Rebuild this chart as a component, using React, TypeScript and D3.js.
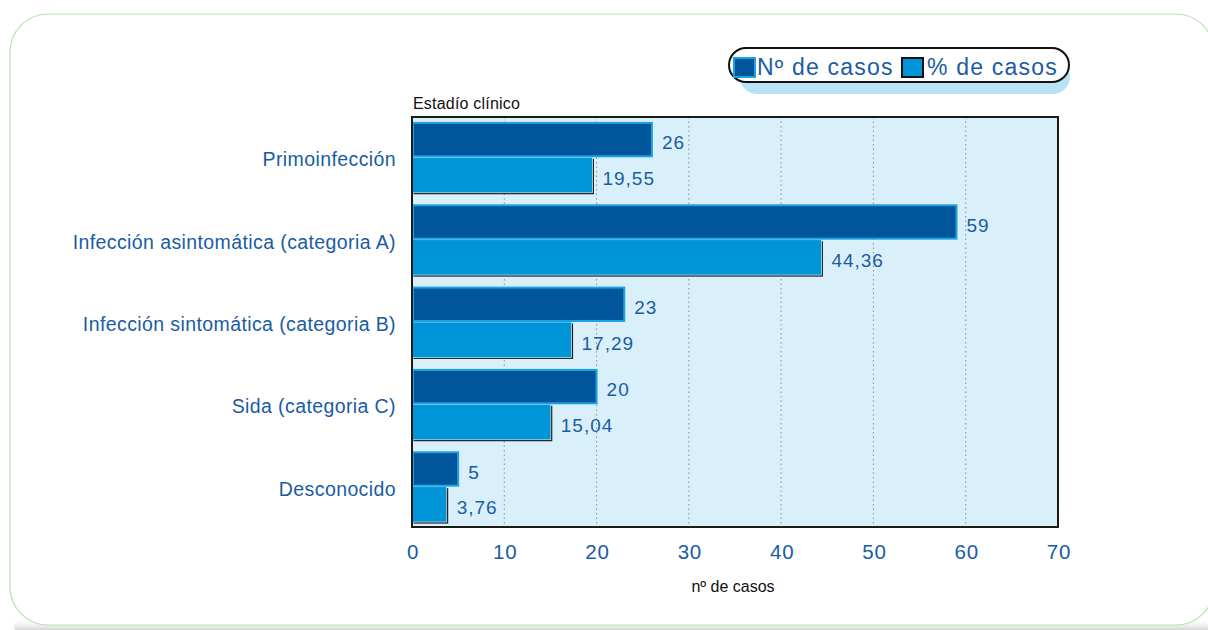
import React from "react";
import * as d3 from "d3";

const categories = [
  "Primoinfección",
  "Infección asintomática (categoria A)",
  "Infección sintomática (categoria B)",
  "Sida (categoria C)",
  "Desconocido",
];
const nCasos = [26, 59, 23, 20, 5];
const pctCasos = [19.55, 44.36, 17.29, 15.04, 3.76];
const xTicks = [0, 10, 20, 30, 40, 50, 60, 70];
const seriesNames = ["Nº de casos", "% de casos"];

const W = 1208;
const H = 630;
const plot = { left: 412, right: 1058, top: 117, bottom: 527 };
const FONT = "'Liberation Sans', Arial, sans-serif";
const BLUE_TEXT = "#1a5ca4";
const DARK = "#01559b";
const DARK_STROKE = "#1ea3e2";
const LIGHT = "#0094d8";
const PLOT_BG = "#d9f0fa";

const fmt = (v: number) => (Number.isInteger(v) ? String(v) : v.toFixed(2).replace(".", ","));

export default function App() {
  const x = d3.scaleLinear().domain([0, 70]).range([plot.left, plot.right]);
  const y = d3
    .scaleBand<string>()
    .domain(categories)
    .range([plot.top, plot.bottom])
    .paddingInner(0.14)
    .paddingOuter(0.06);
  const sub = d3.scaleBand<number>().domain([0, 1]).range([0, y.bandwidth()]);

  return (
    <svg
      width={W}
      height={H}
      style={{ position: "absolute", left: 0, top: 0, fontFamily: FONT }}
    >
      <defs>
        <linearGradient id="cardShadow" x1="0" y1="0" x2="0" y2="1">
          <stop offset="0" stopColor="#ffffff" stopOpacity="0" />
          <stop offset="1" stopColor="#b5b5b5" stopOpacity="1" />
        </linearGradient>
      </defs>
      <rect x={0} y={0} width={W} height={H} fill="#fff" />
      {/* card */}
      <rect x={14} y={618} width={1200} height={16} rx={10} fill="url(#cardShadow)" />
      <rect
        x={10}
        y={14}
        width={1204}
        height={611}
        rx={38}
        fill="#fff"
        stroke="#b9e0b3"
        strokeWidth={1.2}
      />

      {/* plot background */}
      <rect
        x={plot.left}
        y={plot.top}
        width={plot.right - plot.left}
        height={plot.bottom - plot.top}
        fill={PLOT_BG}
      />
      {xTicks
        .filter((t) => t > 0 && t < 70)
        .map((t) => (
          <line
            key={t}
            x1={x(t)}
            x2={x(t)}
            y1={plot.top}
            y2={plot.bottom}
            stroke="#8a8f96"
            strokeWidth={1}
            strokeDasharray="1.5,3"
          />
        ))}

      {/* bars */}
      {categories.map((c, i) => {
        const y0 = y(c)!;
        const yd = y0 + sub(0)!;
        const yl = y0 + sub(1)!;
        const h = sub.bandwidth();
        const wd = x(nCasos[i]) - x(0);
        const wl = x(pctCasos[i]) - x(0);
        return (
          <g key={c}>
            <rect x={x(0) + 1.5} y={yl + 1.5} width={wl} height={h} fill="#111" />
            <rect x={x(0)} y={yl} width={wl} height={h} fill={LIGHT} stroke="#bfe6f8" strokeWidth={0.8} />
            <rect
              x={x(0) + 1}
              y={yd + 1}
              width={wd - 1}
              height={h - 2}
              fill={DARK}
              stroke={DARK_STROKE}
              strokeWidth={2}
            />
            <text
              x={x(nCasos[i]) + 10}
              y={yd + h / 2 + 3}
              dy="0.36em"
              fontSize={19}
              letterSpacing={1}
              fill={BLUE_TEXT}
            >
              {fmt(nCasos[i])}
            </text>
            <text
              x={x(pctCasos[i]) + 10}
              y={yl + h / 2 + 3}
              dy="0.36em"
              fontSize={19}
              letterSpacing={1}
              fill={BLUE_TEXT}
            >
              {fmt(pctCasos[i])}
            </text>
            <text
              x={396}
              y={y0 + y.bandwidth() / 2 + 2}
              dy="0.36em"
              textAnchor="end"
              fontSize={19.5}
              letterSpacing={0.4}
              fill={BLUE_TEXT}
            >
              {c}
            </text>
          </g>
        );
      })}

      {/* plot frame */}
      <rect
        x={plot.left}
        y={plot.top}
        width={plot.right - plot.left}
        height={plot.bottom - plot.top}
        fill="none"
        stroke="#1a1a1a"
        strokeWidth={2}
      />

      {/* x tick labels */}
      {xTicks.map((t) => (
        <text
          key={t}
          x={x(t) + 1}
          y={552}
          dy="0.36em"
          textAnchor="middle"
          fontSize={20.5}
          letterSpacing={0.8}
          fill={BLUE_TEXT}
        >
          {t}
        </text>
      ))}
      <text x={733} y={586} dy="0.36em" textAnchor="middle" fontSize={16} fill="#111">
        nº de casos
      </text>
      <text x={413} y={103} dy="0.36em" fontSize={16} fill="#111" letterSpacing={0.2}>
        Estadío clínico
      </text>

      {/* legend */}
      <rect x={740} y={60} width={330} height={34} rx={17} fill="#b8e3f7" />
      <rect
        x={729}
        y={48}
        width={340}
        height={34}
        rx={17}
        fill="#fff"
        stroke="#111"
        strokeWidth={2}
      />
      <rect x={734} y={58} width={21} height={19} fill={DARK} stroke={DARK_STROKE} strokeWidth={2} />
      <text x={757} y={67} dy="0.36em" fontSize={23} letterSpacing={1.2} fill={BLUE_TEXT}>
        {seriesNames[0]}
      </text>
      <rect x={902} y={58} width={21} height={19} fill={LIGHT} stroke="#111" strokeWidth={2} />
      <text x={927} y={67} dy="0.36em" fontSize={23} letterSpacing={1.2} fill={BLUE_TEXT}>
        {seriesNames[1]}
      </text>
    </svg>
  );
}
